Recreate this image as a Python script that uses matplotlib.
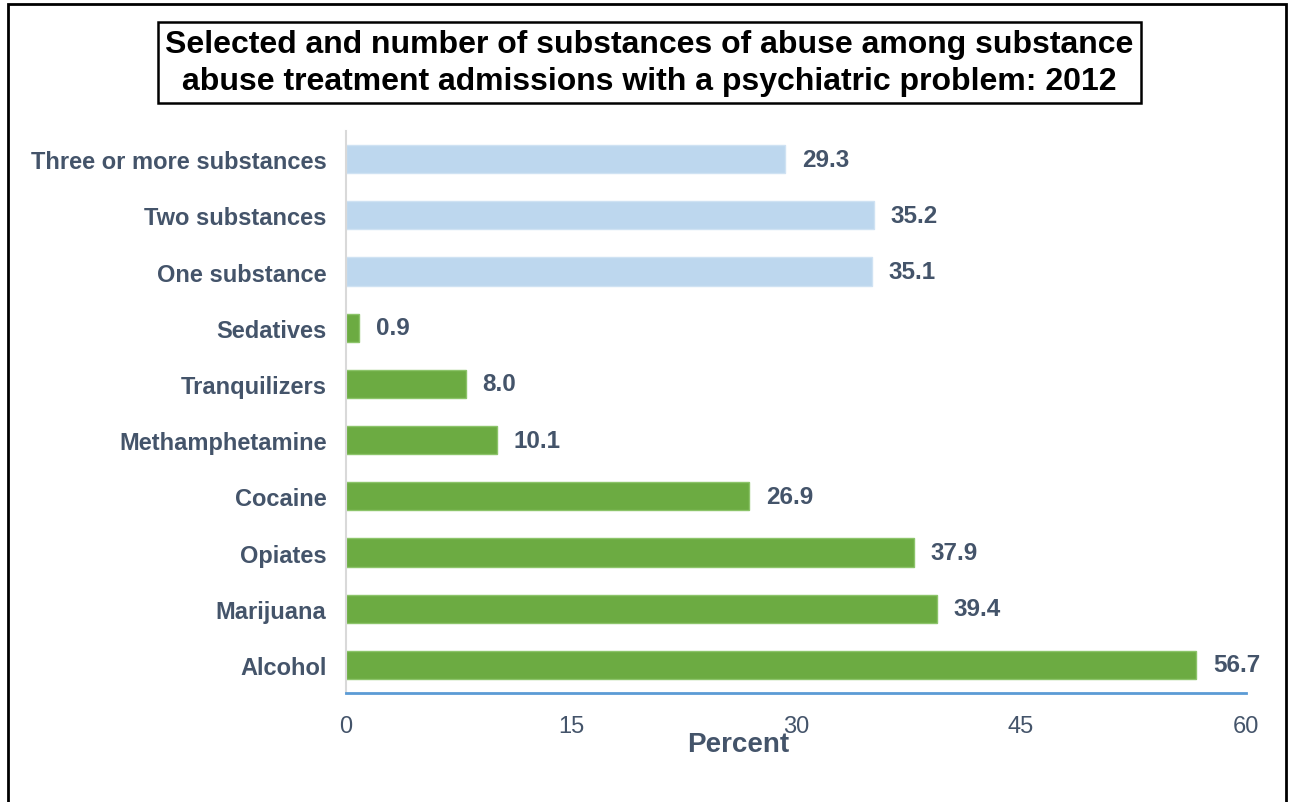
import matplotlib.pyplot as plt
import matplotlib.patches as patches
import numpy as np

plt.rcParams['font.family'] = ['Liberation Sans', 'DejaVu Sans']

categories = ["Alcohol", "Marijuana", "Opiates", "Cocaine", "Methamphetamine",
              "Tranquilizers", "Sedatives", "One substance", "Two substances",
              "Three or more substances"]
values = [56.7, 39.4, 37.9, 26.9, 10.1, 8.0, 0.9, 35.1, 35.2, 29.3]
groups = ["substance"] * 7 + ["count"] * 3

colors = {"substance": "#6cab42", "count": "#bdd7ee"}
edges = {"substance": "#8cc46a", "count": "#cfe2f3"}
text_col = "#44546a"

fig = plt.figure(figsize=(12.91, 8.03), dpi=100)
ax = fig.add_axes([0.268, 0.1357, 0.697, 0.6999])

y = np.arange(len(categories))
for yi, v, g in zip(y, values, groups):
    ax.barh(yi, v, height=0.5, color=colors[g], edgecolor=edges[g], linewidth=1)
    ax.text(v + 1.1, yi, f"{v:.1f}", va="center", ha="left",
            fontsize=17.5, fontweight="bold", color=text_col)

ax.set_xlim(0, 60)
ax.set_ylim(-0.5, 9.5)
ax.set_yticks(y)
ax.set_yticklabels(categories, fontsize=17, fontweight="bold", color=text_col)
ax.set_xticks([0, 15, 30, 45, 60])
ax.tick_params(axis="x", labelsize=17, labelcolor=text_col, length=0, pad=16)
ax.tick_params(axis="y", length=0, pad=14)
ax.set_xlabel("Percent", fontsize=20, fontweight="bold", color=text_col)
ax.xaxis.set_label_coords(0.4356, -0.068)

for s in ["top", "right"]:
    ax.spines[s].set_visible(False)
ax.spines["left"].set_color("#d9d9d9")
ax.spines["left"].set_linewidth(1.5)
ax.spines["bottom"].set_color("#5b9bd5")
ax.spines["bottom"].set_linewidth(2)

# title in a box
fig.text(0.503, 0.921, "Selected and number of substances of abuse among substance\n"
         "abuse treatment admissions with a psychiatric problem: 2012",
         ha="center", va="center", fontsize=23, fontweight="bold", color="black",
         linespacing=1.3,
         bbox=dict(boxstyle="square,pad=0.22", facecolor="white", edgecolor="black", linewidth=1.8))

# outer frame
fig.patches.append(patches.Rectangle((8 / 1291, -0.02), 1278 / 1291, 1 - 5 / 803 + 0.02,
                                     transform=fig.transFigure, fill=False,
                                     edgecolor="black", linewidth=2))

fig.savefig("out.png", dpi=100)
